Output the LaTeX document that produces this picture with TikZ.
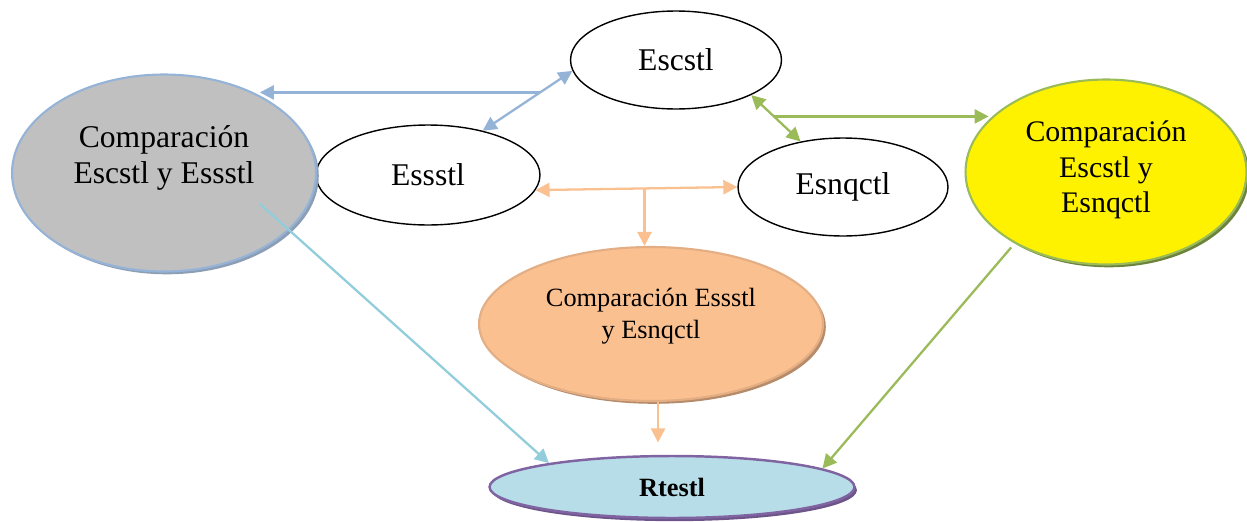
\documentclass[tikz,border=0pt]{standalone}
\usepackage{fontspec}
\setmainfont{Liberation Serif}
\usetikzlibrary{arrows.meta,shapes,calc,shadows}
\definecolor{blueLine}{HTML}{95B3D7}
\definecolor{greenLine}{HTML}{9BBB59}
\definecolor{orangeLine}{HTML}{FAC090}
\definecolor{cyanLine}{HTML}{92CDDC}
\definecolor{grayFill}{HTML}{C0C0C0}
\definecolor{orangeEdge}{HTML}{E3AE84}
\definecolor{rtestlFill}{HTML}{B7DDE8}
\definecolor{rtestlEdge}{HTML}{8064A2}
\tikzset{%
  >={Triangle[width=2.8mm,length=2.8mm]},
  % Specifications for style of nodes:
           base/.style = {ellipse, inner sep=0pt, align=center,
                          font=\rmfamily\fontsize{18}{21}\selectfont},
         source/.style = {base, draw=black, thick,
                          minimum width=4.22cm, minimum height=1.96cm},
   compareBlock/.style = {base, line width=1.2pt,
                          drop shadow={shadow xshift=1.6pt, shadow yshift=-1.6pt,
                                       opacity=1, fill=#1}},
         result/.style = {base, line width=1.4pt, draw=rtestlEdge, fill=rtestlFill,
                          minimum width=7.3cm, minimum height=1.24cm,
                          font=\rmfamily\fontsize{15}{18}\selectfont\bfseries,
                          drop shadow={shadow xshift=1.4pt, shadow yshift=-1.8pt,
                                       opacity=1, fill=rtestlEdge!85!black}},
  link/.style = {line width=1.3pt},
}

\begin{document}
\begin{tikzpicture}[x=0.02cm, y=-0.02cm]
  \useasboundingbox (0,0) rectangle (1247,521);
  % Specification of nodes (position, etc.)
  \node (escstlBlock)    [source] at (676,60)  {Escstl};
  \node (essstlBlock)    [source, minimum width=4.48cm, minimum height=2cm]
                         at (428,175) {Essstl};
  \node (esnqctlBlock)   [source, minimum width=4.2cm] at (843,187) {Esnqctl};

  \node (compEscEssBlock) [compareBlock=blueLine!60!gray, draw=blueLine, fill=grayFill,
                          minimum width=6.08cm, minimum height=3.94cm]
                          at (164,173) {Comparación\\ Escstl y Essstl\\ \mbox{}};
  \node (compEscEsnBlock) [compareBlock=greenLine!70!black, draw=greenLine, fill=yellow,
                          minimum width=5.62cm, minimum height=3.7cm,
                          font=\rmfamily\fontsize{17}{20}\selectfont]
                          at (1106,172) {Comparación\\ Escstl y\\ Esnqctl\\[-14pt] \mbox{}};
  \node (compEssEsnBlock) [compareBlock=orangeEdge!80!black, draw=orangeEdge, fill=orangeLine,
                          minimum width=6.88cm, minimum height=3.08cm,
                          font=\rmfamily\fontsize{15}{18}\selectfont]
                          at (651,324) {Comparación Essstl\\ y Esnqctl\\[-6pt] \mbox{}};

  \node (rtestlBlock)    [result] at (672,487) {Rtestl};

  % Specification of lines between nodes specified above
  \coordinate (blueJoin)   at ($(escstlBlock.186)!0.36!(essstlBlock.39)$);
  \coordinate (greenJoin)  at ($(escstlBlock.-25)!0.46!(esnqctlBlock.133)$);
  \coordinate (orangeJoin) at ($(essstlBlock.-8)!0.54!(esnqctlBlock.west)$);
  \coordinate (cyanStart)  at ($(compEscEssBlock.center)+(96,31)$);

  \draw[link, blueLine, <->]   (escstlBlock.186) -- (essstlBlock.39);
  \draw[link, blueLine, ->]    (blueJoin) -- (blueJoin -| compEscEssBlock.39);

  \draw[link, greenLine, <->]  (escstlBlock.-25) -- (esnqctlBlock.133);
  \draw[link, greenLine, ->]   (greenJoin) -- (greenJoin -| compEscEsnBlock.156);

  \draw[link, orangeLine, <->] (essstlBlock.-8) -- (esnqctlBlock.west);
  \draw[link, orangeLine, ->]  (orangeJoin) -- (orangeJoin |- compEssEsnBlock.north);
  \draw[link, orangeLine, ->, shorten >=7pt]
       ([xshift=4pt]compEssEsnBlock.south) -- ([xshift=4pt]compEssEsnBlock.south |- rtestlBlock.north);

  \draw[link, cyanLine, ->]    (cyanStart) -- (rtestlBlock.169);
  \draw[link, greenLine, ->, shorten <=3pt]
                               (compEscEsnBlock.218) -- (rtestlBlock.7);
\end{tikzpicture}
\end{document}
